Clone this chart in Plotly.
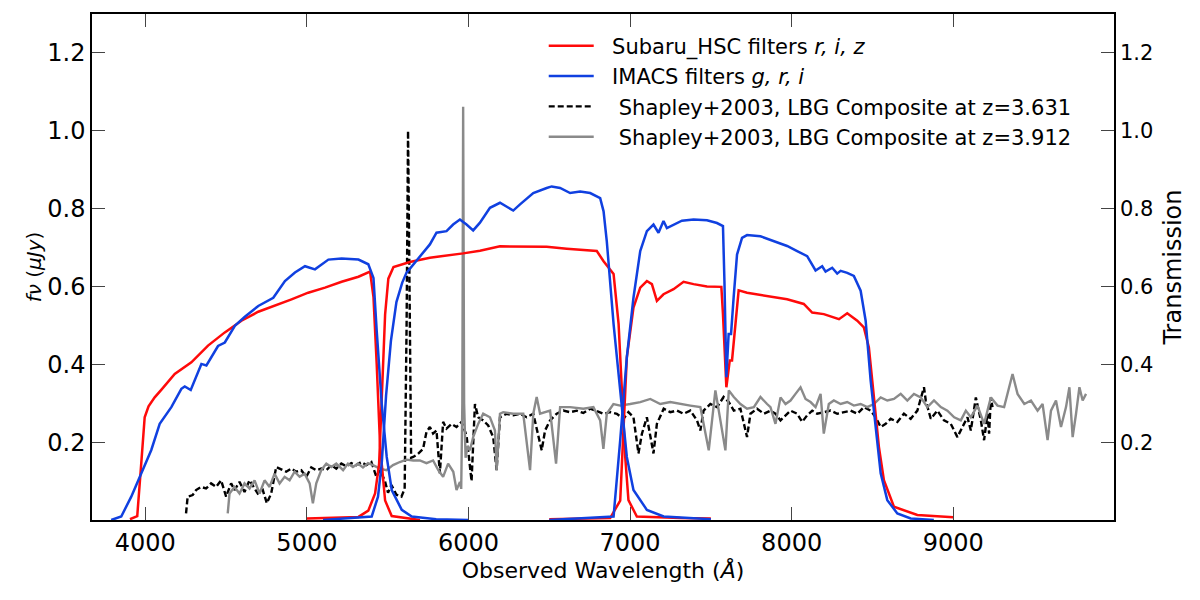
import plotly.graph_objs as go

# Filtros Subaru HSC (rojo) - longitud de onda (A) y transmision
hsc1_wl = [3905, 3950, 3975, 3996, 4020, 4058, 4100, 4182, 4285, 4388, 4492, 4595, 4699, 4802, 4905, 5008, 5112, 5215, 5319, 5391, 5412, 5432, 5453, 5484, 5525, 5700]
hsc1_tr = [0.002, 0.01, 0.146, 0.264, 0.292, 0.315, 0.335, 0.375, 0.405, 0.448, 0.482, 0.512, 0.535, 0.550, 0.567, 0.584, 0.597, 0.612, 0.625, 0.638, 0.573, 0.40, 0.19, 0.05, 0.01, 0.0]

hsc2_wl = [5000, 5319, 5380, 5422, 5447, 5463, 5484, 5504, 5536, 5637, 5761, 5967, 6071, 6195, 6319, 6484, 6608, 6794, 6836, 6877, 6898, 6929, 6949, 6970, 6990, 7042, 7311, 7500]
hsc2_tr = [0.004, 0.008, 0.024, 0.068, 0.145, 0.316, 0.528, 0.62, 0.65, 0.663, 0.674, 0.685, 0.692, 0.703, 0.702, 0.702, 0.697, 0.691, 0.665, 0.644, 0.632, 0.504, 0.333, 0.162, 0.051, 0.009, 0.005, 0.004]

hsc3_wl = [6500, 6877, 6939, 6960, 6980, 7021, 7063, 7104, 7135, 7166, 7207, 7269, 7331, 7393, 7476, 7565, 7575, 7596, 7617, 7631, 7652, 7672, 7724, 7848, 7972, 8075, 8127, 8199, 8293, 8344, 8406, 8447, 8478, 8509, 8540, 8571, 8633, 8778, 9000]
hsc3_tr = [0.002, 0.005, 0.05, 0.248, 0.418, 0.546, 0.597, 0.614, 0.606, 0.563, 0.580, 0.593, 0.612, 0.606, 0.600, 0.599, 0.529, 0.341, 0.410, 0.410, 0.512, 0.590, 0.584, 0.576, 0.567, 0.555, 0.533, 0.529, 0.516, 0.531, 0.512, 0.495, 0.443, 0.316, 0.188, 0.102, 0.034, 0.013, 0.007]

# Filtros IMACS (azul)
imacs1_wl = [3789, 3851, 3913, 3975, 4037, 4089, 4161, 4223, 4244, 4281, 4347, 4378, 4450, 4492, 4554, 4616, 4699, 4792, 4864, 4926, 4988, 5050, 5133, 5215, 5319, 5380, 5412, 5432, 5463, 5494, 5525, 5587, 5649, 5800, 6000]
imacs1_tr = [0.0, 0.009, 0.060, 0.120, 0.18, 0.247, 0.29, 0.337, 0.343, 0.334, 0.401, 0.397, 0.447, 0.456, 0.499, 0.522, 0.550, 0.571, 0.614, 0.636, 0.652, 0.644, 0.669, 0.672, 0.669, 0.657, 0.622, 0.486, 0.299, 0.162, 0.077, 0.026, 0.009, 0.002, 0.0]

imacs2_wl = [5100, 5401, 5440, 5463, 5490, 5520, 5554, 5590, 5616, 5678, 5761, 5802, 5864, 5905, 5947, 5988, 6029, 6071, 6133, 6195, 6236, 6277, 6319, 6401, 6484, 6515, 6567, 6629, 6691, 6753, 6815, 6836, 6856, 6898, 6939, 6980, 7021, 7104, 7208, 7500]
imacs2_tr = [0.0, 0.009, 0.06, 0.145, 0.32, 0.46, 0.56, 0.61, 0.635, 0.665, 0.708, 0.738, 0.742, 0.759, 0.772, 0.759, 0.744, 0.764, 0.802, 0.815, 0.806, 0.795, 0.811, 0.840, 0.853, 0.857, 0.853, 0.840, 0.844, 0.840, 0.827, 0.793, 0.716, 0.503, 0.333, 0.162, 0.077, 0.026, 0.009, 0.002]

imacs3_wl = [6500, 6898, 6939, 6980, 7021, 7063, 7104, 7145, 7176, 7207, 7228, 7269, 7321, 7393, 7476, 7538, 7575, 7584, 7596, 7610, 7625, 7641, 7662, 7693, 7724, 7807, 7889, 7972, 8034, 8096, 8148, 8189, 8210, 8251, 8282, 8303, 8344, 8385, 8427, 8458, 8489, 8520, 8551, 8592, 8654, 8737, 8880]
imacs3_tr = [0.0, 0.009, 0.205, 0.418, 0.571, 0.691, 0.742, 0.759, 0.738, 0.768, 0.750, 0.759, 0.769, 0.772, 0.770, 0.763, 0.755, 0.614, 0.367, 0.478, 0.478, 0.572, 0.682, 0.725, 0.732, 0.729, 0.716, 0.704, 0.691, 0.678, 0.641, 0.652, 0.638, 0.648, 0.633, 0.640, 0.635, 0.627, 0.589, 0.512, 0.358, 0.230, 0.120, 0.051, 0.017, 0.004, 0.0]

# Espectro compuesto LBG (Shapley+2003) a z=3.631 (negro discontinuo)
lbg1_wl = [4252, 4262, 4293, 4314, 4345, 4376, 4407, 4438, 4469, 4500, 4531, 4552, 4583, 4614, 4645, 4696, 4727, 4752, 4779, 4810, 4841, 4872, 4903, 4934, 4965, 4996, 5027, 5058, 5089, 5120, 5151, 5182, 5213, 5244, 5275, 5306, 5337, 5368, 5399, 5430, 5451, 5482, 5502, 5523, 5554, 5585, 5605, 5617, 5626, 5634, 5645, 5658, 5688, 5719, 5740, 5761, 5781, 5802, 5823, 5843, 5864, 5895, 5926, 5957, 5988, 6019, 6040, 6060, 6091, 6122, 6153, 6174, 6195, 6236, 6277, 6319, 6360, 6401, 6432, 6453, 6474, 6505, 6546, 6587, 6629, 6670, 6711, 6753, 6794, 6835, 6877, 6918, 6959, 6990, 7021, 7052, 7073, 7104, 7145, 7166, 7208, 7249, 7290, 7331, 7373, 7414, 7435, 7455, 7497, 7538, 7579, 7611, 7642, 7683, 7724, 7745, 7786, 7828, 7869, 7900, 7931, 7962, 7993, 8034, 8065, 8096, 8127, 8158, 8199, 8241, 8282, 8323, 8365, 8406, 8447, 8489, 8520, 8551, 8582, 8613, 8654, 8695, 8737, 8778, 8819, 8830, 8861, 8902, 8943, 8985, 9026, 9057, 9088, 9109, 9140, 9171, 9191, 9212, 9222, 9233, 9243]
lbg1_fl = [0.017, 0.060, 0.064, 0.077, 0.085, 0.081, 0.094, 0.085, 0.102, 0.060, 0.094, 0.077, 0.098, 0.072, 0.102, 0.068, 0.077, 0.043, 0.068, 0.136, 0.130, 0.124, 0.132, 0.124, 0.128, 0.111, 0.135, 0.128, 0.132, 0.128, 0.141, 0.132, 0.145, 0.138, 0.146, 0.141, 0.149, 0.141, 0.149, 0.111, 0.128, 0.102, 0.070, 0.090, 0.065, 0.060, 0.080, 0.50, 1.0, 0.55, 0.16, 0.162, 0.170, 0.183, 0.226, 0.239, 0.222, 0.230, 0.120, 0.252, 0.235, 0.247, 0.239, 0.252, 0.217, 0.100, 0.298, 0.264, 0.256, 0.243, 0.213, 0.128, 0.264, 0.273, 0.269, 0.273, 0.264, 0.273, 0.213, 0.179, 0.230, 0.256, 0.273, 0.281, 0.277, 0.281, 0.275, 0.286, 0.280, 0.273, 0.277, 0.273, 0.260, 0.277, 0.264, 0.171, 0.221, 0.264, 0.171, 0.247, 0.286, 0.277, 0.281, 0.273, 0.281, 0.256, 0.230, 0.281, 0.298, 0.290, 0.316, 0.303, 0.281, 0.286, 0.213, 0.273, 0.286, 0.273, 0.281, 0.273, 0.256, 0.269, 0.281, 0.273, 0.252, 0.269, 0.281, 0.273, 0.277, 0.281, 0.273, 0.277, 0.281, 0.273, 0.290, 0.281, 0.264, 0.239, 0.247, 0.260, 0.252, 0.273, 0.260, 0.281, 0.341, 0.307, 0.260, 0.281, 0.256, 0.247, 0.213, 0.239, 0.264, 0.230, 0.315, 0.256, 0.205, 0.273, 0.222, 0.315, 0.290]

# Espectro compuesto LBG (Shapley+2003) a z=3.912 (gris)
lbg2_wl = [4510, 4521, 4552, 4583, 4614, 4645, 4676, 4707, 4738, 4769, 4800, 4831, 4862, 4893, 4924, 4955, 4986, 5017, 5037, 5058, 5089, 5120, 5151, 5182, 5224, 5254, 5285, 5316, 5347, 5378, 5409, 5451, 5492, 5533, 5575, 5616, 5658, 5699, 5740, 5781, 5813, 5843, 5874, 5906, 5926, 5947, 5955, 5962, 5967, 5973, 5982, 5995, 6009, 6029, 6060, 6091, 6133, 6164, 6174, 6195, 6215, 6277, 6339, 6381, 6401, 6422, 6443, 6505, 6542, 6567, 6629, 6711, 6773, 6815, 6835, 6856, 6897, 6939, 7001, 7063, 7125, 7187, 7249, 7311, 7373, 7435, 7487, 7528, 7559, 7590, 7611, 7642, 7683, 7724, 7766, 7807, 7848, 7869, 7900, 7931, 7962, 7993, 8024, 8055, 8086, 8117, 8148, 8179, 8199, 8230, 8261, 8303, 8344, 8385, 8427, 8468, 8509, 8551, 8592, 8633, 8675, 8716, 8757, 8799, 8840, 8881, 8923, 8964, 9006, 9047, 9078, 9109, 9150, 9191, 9233, 9274, 9315, 9346, 9367, 9398, 9440, 9481, 9522, 9553, 9584, 9605, 9636, 9667, 9698, 9719, 9739, 9760, 9781, 9801, 9822]
lbg2_fl = [0.017, 0.068, 0.085, 0.068, 0.094, 0.081, 0.102, 0.068, 0.102, 0.085, 0.119, 0.094, 0.111, 0.102, 0.124, 0.111, 0.119, 0.094, 0.043, 0.094, 0.128, 0.145, 0.136, 0.145, 0.128, 0.145, 0.136, 0.145, 0.135, 0.146, 0.141, 0.132, 0.128, 0.141, 0.149, 0.155, 0.153, 0.153, 0.146, 0.153, 0.128, 0.111, 0.145, 0.124, 0.077, 0.098, 0.08, 0.30, 1.062, 0.30, 0.16, 0.19, 0.179, 0.213, 0.247, 0.273, 0.264, 0.230, 0.128, 0.273, 0.277, 0.273, 0.273, 0.128, 0.273, 0.316, 0.273, 0.281, 0.145, 0.290, 0.290, 0.286, 0.290, 0.256, 0.183, 0.273, 0.298, 0.294, 0.298, 0.303, 0.311, 0.298, 0.303, 0.298, 0.294, 0.290, 0.179, 0.333, 0.256, 0.179, 0.333, 0.316, 0.298, 0.286, 0.290, 0.316, 0.298, 0.290, 0.247, 0.315, 0.298, 0.307, 0.324, 0.341, 0.311, 0.303, 0.290, 0.324, 0.222, 0.298, 0.307, 0.298, 0.303, 0.294, 0.298, 0.290, 0.298, 0.315, 0.307, 0.311, 0.324, 0.307, 0.324, 0.315, 0.290, 0.307, 0.290, 0.281, 0.264, 0.256, 0.281, 0.264, 0.294, 0.247, 0.315, 0.294, 0.290, 0.341, 0.375, 0.324, 0.298, 0.307, 0.281, 0.298, 0.205, 0.281, 0.307, 0.239, 0.290, 0.341, 0.213, 0.273, 0.341, 0.307, 0.324]

y_ticks = [0.2, 0.4, 0.6, 0.8, 1.0, 1.2]
x_ticks = [4000, 5000, 6000, 7000, 8000, 9000]

rojo = "#ff0a0a"
azul = "#1040e0"
gris = "#8a8a8a"
esp = "\u00a0"

fig = go.Figure()

# Espectros sobre el eje izquierdo
fig.add_trace(go.Scatter(x=lbg1_wl, y=lbg1_fl, mode="lines", name=esp * 3 + "Shapley+2003, LBG Composite at z=3.631",
                         line=dict(color="black", width=2.4, dash="6px,3px"), legendrank=3))
fig.add_trace(go.Scatter(x=lbg2_wl, y=lbg2_fl, mode="lines", name=esp * 3 + "Shapley+2003, LBG Composite at z=3.912",
                         line=dict(color=gris, width=2.4), legendrank=4))

# Filtros sobre el eje derecho (transmision)
for i, (wl, tr) in enumerate([(hsc1_wl, hsc1_tr), (hsc2_wl, hsc2_tr), (hsc3_wl, hsc3_tr)]):
    fig.add_trace(go.Scatter(x=wl, y=tr, mode="lines", yaxis="y2", legendgroup="hsc", showlegend=(i == 0),
                             name=esp * 2 + "Subaru_HSC filters <i>r, i, z</i>", line=dict(color=rojo, width=2.5), legendrank=1))
for i, (wl, tr) in enumerate([(imacs1_wl, imacs1_tr), (imacs2_wl, imacs2_tr), (imacs3_wl, imacs3_tr)]):
    fig.add_trace(go.Scatter(x=wl, y=tr, mode="lines", yaxis="y2", legendgroup="imacs", showlegend=(i == 0),
                             name=esp * 2 + "IMACS filters <i>g, r, i</i>", line=dict(color=azul, width=2.5), legendrank=2))

fuente = "DejaVu Sans"
# la pagina tiene 8px de margen propio: se descuenta de los margenes
fig.update_layout(
    width=1200, height=600,
    margin=dict(l=84, r=94, t=4, b=88),
    paper_bgcolor="white", plot_bgcolor="white",
    font=dict(family=fuente, color="black"),
    legend=dict(x=0.442, y=0.977, xanchor="left", yanchor="top", font=dict(size=21, family=fuente),
                bgcolor="rgba(0,0,0,0)", tracegroupgap=0, itemwidth=45),
    xaxis=dict(range=[3670, 9995], tickvals=x_ticks, ticks="inside", ticklen=13, tickwidth=1.2,
               showline=True, linecolor="black", linewidth=1.5, mirror="ticks", showgrid=False, zeroline=False,
               tickfont=dict(size=24), title=dict(text="Observed Wavelength (<i>Å</i>)", font=dict(size=22), standoff=6)),
    yaxis=dict(range=[0.0, 1.3], tickvals=y_ticks, tickformat=".1f", ticks="inside", ticklen=13, tickwidth=1.2,
               showline=True, linecolor="black", linewidth=1.5, showgrid=False, zeroline=False,
               tickfont=dict(size=24), title=dict(text="<i>fν</i> (<i>μJy</i>)", font=dict(size=20), standoff=0)),
    yaxis2=dict(range=[0.0, 1.3], tickvals=y_ticks, tickformat=".1f", ticks="inside", ticklen=13, tickwidth=1.2,
                overlaying="y", side="right", anchor="x", showline=True, linecolor="black", linewidth=1.5,
                showgrid=False, zeroline=False, tickfont=dict(size=21),
                title=dict(text="Transmission", font=dict(size=24), standoff=12)),
)

fig.write_html("out.html")
